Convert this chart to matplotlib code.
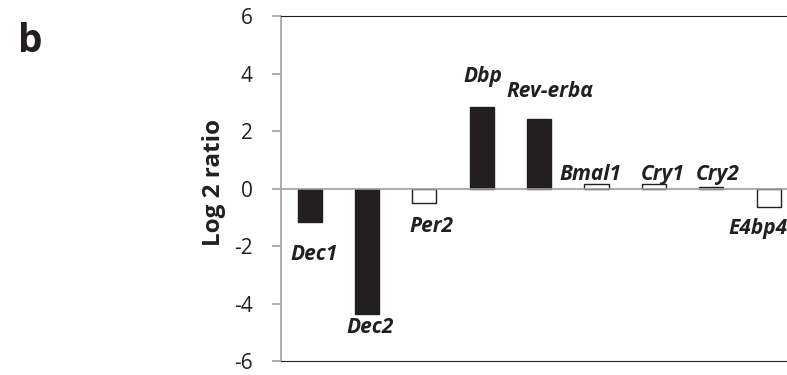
import numpy as np
import matplotlib.pyplot as plt

genes = ["Dec1", "Dec2", "Per2", "Dbp", "Rev-erbα", "Bmal1", "Cry1", "Cry2", "E4bp4"]
log2_ratio = [-1.15, -4.35, -0.52, 2.82, 2.43, 0.14, 0.14, 0.07, -0.66]
filled = [True, True, False, True, True, False, False, False, False]
yticks = [-6, -4, -2, 0, 2, 4, 6]

plt.rcParams['font.family'] = ['Open Sans', 'DejaVu Sans']

fig = plt.figure(figsize=(7.87, 3.75), dpi=100)
ax = fig.add_axes([0.357, 0.0373, 0.656, 0.92])

x = np.arange(len(genes))
dark = "#231f20"
cols = [dark if f else "white" for f in filled]
ax.bar(x, log2_ratio, width=0.42, color=cols, edgecolor=dark, linewidth=1.0, zorder=2)
ax.axhline(0, color="#a0a0a0", linewidth=1.2, zorder=3)

# label placement: (dx in categories, baseline y in data units)
offs = {"Dec1": (0.07, -2.47), "Dec2": (0.06, -5.01), "Per2": (0.12, -1.50),
        "Dbp": (0.02, 3.72), "Rev-erbα": (0.19, 3.17), "Bmal1": (-0.10, 0.29),
        "Cry1": (0.16, 0.29), "Cry2": (0.12, 0.29), "E4bp4": (-0.70, -1.57)}
for i, g in enumerate(genes):
    dx, ty = offs[g]
    ax.text(i + dx, ty, g, ha="center" if g != "E4bp4" else "left", va="baseline",
            fontsize=15, fontweight="bold", style="italic", color=dark, clip_on=False)

ax.set_xlim(-0.5, 8.5)
ax.set_ylim(-6, 6)
ax.set_yticks(yticks)
ax.set_yticklabels([str(t) for t in yticks], fontsize=15, color="#202020")
ax.set_xticks([])
ax.tick_params(axis="y", direction="out", length=6.5, width=1.2, color="#a0a0a0", pad=14)
ax.spines["left"].set_color("#a0a0a0")
ax.spines["left"].set_linewidth(1.2)
ax.spines["top"].set_color(dark)
ax.spines["bottom"].set_color(dark)
ax.spines["right"].set_visible(False)
ax.set_ylabel("Log 2 ratio", fontsize=17.5, fontweight="bold", color=dark)
ax.yaxis.set_label_coords(-0.107, 0.516)

fig.text(0.023, 0.861, "b", fontsize=28, fontweight="bold", color=dark, ha="left", va="baseline")

fig.savefig("out.png", dpi=100)
